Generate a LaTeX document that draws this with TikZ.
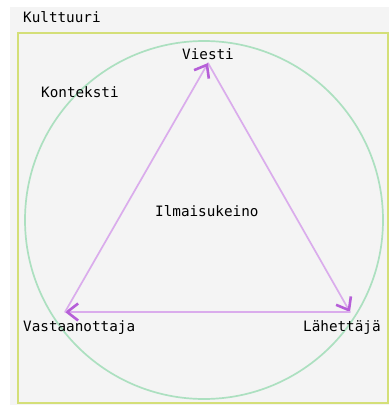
\documentclass[tikz,border=0pt]{standalone}
\usepackage{fontspec}
\setmonofont{DejaVu Sans Mono}
\usetikzlibrary{arrows.meta}

\definecolor{paper}{HTML}{F4F4F4}
\definecolor{cultureline}{HTML}{D4DF78}
\definecolor{contextline}{HTML}{ACE0C0}
\definecolor{flowline}{HTML}{DAACEC}
\definecolor{flowtip}{HTML}{B65FD8}

\tikzset{
  label/.style={anchor=base west, inner sep=0pt, font=\ttfamily\fontsize{14.3}{16}\selectfont, text=black},
  flow/.style={draw=flowline, line width=1.7pt, line cap=round,
    -{Straight Barb[length=11pt, width=17pt, line width=2.6pt, color=flowtip]}},
}

\begin{document}
\begin{tikzpicture}[x=1pt, y=-1pt]
  \useasboundingbox (0,0) rectangle (389,405);
  % page background
  \fill[paper] (10,7) rectangle (389,405);

  % culture frame and context circle
  \draw[cultureline, line width=1.7pt] (18,33) rectangle (388,403);
  \draw[contextline, line width=1.7pt] (204,220) circle[radius=179];

  % corners of the communication triangle
  \coordinate (viesti)  at (208,63);
  \coordinate (vast)    at (65,312);
  \coordinate (lah)     at (350,312);

  \draw[flow] (viesti) -- (lah);
  \draw[flow] (lah) -- (vast);
  \draw[flow] (vast) -- (viesti);

  % labels
  \node[label] (kulttuuri) at (23,22)  {Kulttuuri};
  \node[label] (konteksti) at (41,97)  {Konteksti};
  \node[label] (tviesti)   at (182,59) {Viesti};
  \node[label] (tvast)     at (23,331) {Vastaanottaja};
  \node[label] (tlah)      at (303,331) {Lähettäjä};
  \node[label] (ilmaisu)   at (155,216) {Ilmaisukeino};
\end{tikzpicture}
\end{document}
